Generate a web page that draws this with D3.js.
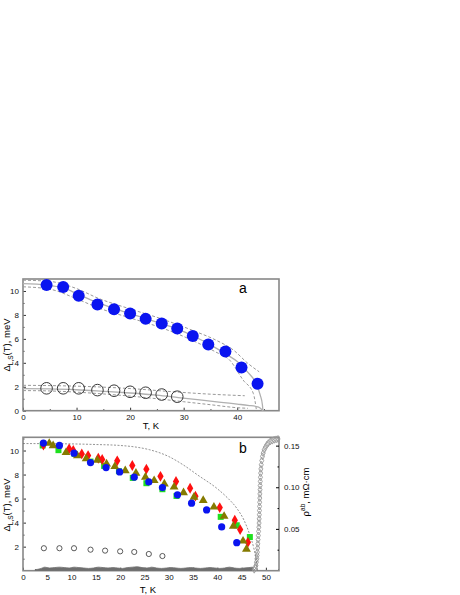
<!DOCTYPE html>
<html><head><meta charset="utf-8">
<script src="https://cdn.jsdelivr.net/npm/d3@7"></script>
<style>body{margin:0;background:#fff}svg{display:block}text{font-family:"Liberation Sans",Arial,sans-serif}</style>
</head><body>
<script>
// ---- Panel a data ----
const aT = [4.4,7.5,10.4,13.9,17,20,22.9,25.9,28.8,31.7,34.6,37.8,40.8,43.8];
const aLarge = [10.5,10.33,9.6,8.87,8.47,8.12,7.67,7.28,6.87,6.23,5.53,4.95,3.6,2.25];
const aSmallT = [4.4,7.5,10.4,13.9,17,20,22.9,25.9,28.8];
const aSmall = [1.87,1.87,1.87,1.72,1.67,1.58,1.5,1.35,1.17];
const aFitT = [0,4.4,7.5,10.4,14,17,20,23,26,29,32,35,38,40,42,43.5,44.3,44.7,44.8];
const aFit = [10.62,10.5,10.25,9.7,9.0,8.55,8.1,7.7,7.25,6.8,6.2,5.5,4.7,4.1,3.2,2.3,1.3,0.5,0];
const aUpT = [0,5,10,14,20,26,32,36,39.3,42,44.1];
const aUp = [10.9,10.8,10.2,9.4,8.5,7.65,6.65,5.9,5.06,3.95,3.25];
const aLoT = [0,5,10,14,20,26,32,36,38.6,41.1,43,43.6];
const aLo = [10.35,10.15,9.35,8.6,7.75,6.9,5.8,4.9,4.22,2.56,1.45,0];
const aSFitT = [0,5,10,15,20,25,29,33,37,40,42,44,44.8];
const aSFit = [1.85,1.83,1.75,1.62,1.48,1.3,1.1,0.9,0.7,0.55,0.45,0.3,0];
const aSUpT = [0,10,20,29,35,41.4];
const aSUp = [2.12,2.05,1.85,1.55,1.38,1.25];
const aSLoT = [0,5,10,15,20,25,30,35,40,42];
const aSLo = [1.68,1.65,1.55,1.4,1.22,1.0,0.75,0.5,0.25,0.2];

// ---- Panel b data ----
const bBlueT = [4.2,7.5,10.5,13.9,17.1,19.9,22.9,25.9,28.7,31.8,34.7,37.8,40.9,44.0];
const bBlue = [10.62,10.42,9.78,9.0,8.58,8.22,7.78,7.39,6.92,6.31,5.62,5.06,3.64,2.33];
const bRedT = [4.2,9.5,10.35,12.1,13.4,15.5,16.3,19.4,22.5,25.4,28.3,31.5,34.4,35.5,40.5,43.6,44.7,46.3];
const bRed = [10.45,10.14,10.0,9.72,9.58,9.36,9.25,9.14,8.75,8.45,7.85,7.42,6.86,6.2,5.25,4.2,3.42,2.36];
const bGreenT = [4.05,7.3,10.6,13.9,16.7,19.75,22.6,25.4,28.7,31.6,40.7,44.0,46.7];
const bGreen = [10.42,10.03,9.72,9.08,8.72,8.28,7.72,7.28,6.78,6.22,4.48,3.78,2.8];
const bTriT = [5.4,6.2,8.85,11.2,13.0,15.3,17.2,18.9,21.05,23.25,25.2,27.0,29.1,31.1,33.05,35.2,37.1,39.3,41.4,43.3,45.3,46.0];
const bTri = [10.6,10.4,9.83,9.56,9.33,9.2,8.89,8.67,8.33,8.11,7.78,7.5,7.22,6.96,6.5,6.12,5.85,5.3,4.53,3.7,2.47,1.8];
const bSmallT = [4.3,7.5,10.5,13.9,16.9,20,22.9,25.9,28.7];
const bSmall = [1.87,1.87,1.87,1.75,1.67,1.61,1.56,1.39,1.22];
const bDashT = [0,5,10,15,20,23,26,30,33,36,40,42,44,45.5,46.7,47.5,48,48.3];
const bDash = [10.58,10.57,10.55,10.5,10.42,10.3,10.07,9.5,8.8,7.95,6.82,6.1,5.2,4.2,2.97,1.9,0.9,0];
// resistivity (mOhm cm)
const rhoLowT = [2.5,3.5,4.5,5.5,6.5,7.5,8.5,9.5,10.5,11.5,12.5,13.5,14.5,15.5,16.5,17.5,18.5,19.5,20.5,21.5,22.5,23.5,24.5,25.5,26.5,27.5,28.5,29.5,30.5,31.5,32.5,33.5,34.5,35.5,36.5,37.5,38.5,39.5,40.5,41.5,42.5,43.5,44.5,45.5,46.5,47.3];
const rhoLow = [0.001,0.002,0.004,0.003,0.0035,0.004,0.0035,0.003,0.004,0.0035,0.003,0.0025,0.003,0.004,0.0035,0.003,0.0035,0.003,0.0025,0.0035,0.004,0.0045,0.0035,0.003,0.004,0.003,0.0025,0.003,0.0035,0.003,0.0025,0.003,0.0035,0.003,0.0025,0.003,0.0035,0.003,0.0025,0.003,0.004,0.003,0.0025,0.003,0.0035,0.004];
const rhoTrT = [47.6,47.8,47.95,48.05,48.15,48.2,48.25,48.3,48.35,48.4,48.45,48.5,48.55,48.6,48.62,48.65,48.68,48.7,48.72,48.75,48.77,48.8,48.82,48.85,48.88,48.92,48.97,49.05,49.15,49.3,49.45,49.65,49.9,50.2,50.5,50.9,51.3,51.7,52.1,52.5];
const rhoTr = [0.001,0.003,0.006,0.01,0.014,0.018,0.022,0.027,0.032,0.037,0.042,0.047,0.052,0.057,0.062,0.067,0.072,0.077,0.082,0.087,0.092,0.097,0.102,0.107,0.112,0.117,0.122,0.127,0.132,0.137,0.141,0.145,0.148,0.151,0.153,0.155,0.156,0.157,0.1575,0.158];

const xTicksA = [0,10,20,30,40];
const yTicksA = [0,2,4,6,8,10];
const xTicksB = [0,5,10,15,20,25,30,35,40,45,50];
const yTicksB = [2,4,6,8,10];
const rTicksB = [0.05,0.10,0.15];

const svg = d3.select("body").append("svg").attr("width",460).attr("height",595);
svg.append("rect").attr("width",460).attr("height",595).attr("fill","#fff");

const L=23,R=279;
const xA = d3.scaleLinear().domain([0,47.8]).range([L,R]);
const yA = d3.scaleLinear().domain([0,11]).range([410.7,279]);
const xB = d3.scaleLinear().domain([0,52.7]).range([L,R]);
const yB = d3.scaleLinear().domain([0,11.1]).range([570.7,437.3]);
const yR = d3.scaleLinear().domain([0,0.16]).range([570.5,437.3]);

const zip=(a,b)=>a.map((v,i)=>[v,b[i]]);
function line(g,x,y,T,V,stroke,w,dash){
  g.append("path").datum(zip(T,V)).attr("fill","none").attr("stroke",stroke).attr("stroke-width",w)
   .attr("stroke-dasharray",dash||null)
   .attr("d",d3.line().x(d=>x(d[0])).y(d=>y(d[1])).curve(d3.curveMonotoneX));
}
function axes(g,x,y,xt,xmin,yt,ymin,top,bottom){
  const ax=d3.axisBottom(x).tickValues(xt).tickSize(-3).tickPadding(4).tickFormat(d3.format("d"));
  g.append("g").attr("transform",`translate(0,${bottom})`).call(ax);
  g.append("g").attr("transform",`translate(0,${bottom})`).call(d3.axisBottom(x).tickValues(xmin).tickSize(-1.5).tickFormat(""));
  const ay=d3.axisLeft(y).tickValues(yt).tickSize(-3).tickPadding(4).tickFormat(d3.format("d"));
  g.append("g").attr("transform",`translate(${L},0)`).call(ay);
  g.append("g").attr("transform",`translate(${L},0)`).call(d3.axisLeft(y).tickValues(ymin).tickSize(-1.5).tickFormat(""));
  g.selectAll(".domain").remove();
  g.selectAll(".tick line").attr("stroke","#333");
  g.selectAll(".tick text").attr("font-size",8).attr("fill","#111").attr("font-family","Liberation Sans, Arial");
  g.append("rect").attr("x",L).attr("y",top).attr("width",R-L).attr("height",bottom-top)
   .attr("fill","none").attr("stroke","#888").attr("stroke-width",1.6);
}

// ---------- Panel a ----------
const ga = svg.append("g");
axes(ga,xA,yA,xTicksA,[5,15,25,35,45],yTicksA,[1,3,5,7,9],279,410.7);
line(ga,xA,yA,aUpT,aUp,"#999",1,"3,2");
line(ga,xA,yA,aLoT,aLo,"#999",1,"3,2");
line(ga,xA,yA,aFitT,aFit,"#b0b0b0",1.3);
line(ga,xA,yA,aSUpT,aSUp,"#999",1,"3,2");
line(ga,xA,yA,aSLoT,aSLo,"#999",1,"3,2");
line(ga,xA,yA,aSFitT,aSFit,"#b0b0b0",1.3);
ga.selectAll(".big").data(zip(aT,aLarge)).join("circle").attr("cx",d=>xA(d[0])).attr("cy",d=>yA(d[1])).attr("r",6).attr("fill","#0a14f0");
ga.selectAll(".sm").data(zip(aSmallT,aSmall)).join("circle").attr("cx",d=>xA(d[0])).attr("cy",d=>yA(d[1])).attr("r",5.8).attr("fill","none").attr("stroke","#222").attr("stroke-width",0.9);
ga.append("text").attr("x",243).attr("y",293).attr("text-anchor","middle").attr("font-size",14).text("a");
ga.append("text").attr("x",151).attr("y",429).attr("text-anchor","middle").attr("font-size",9.5).text("T, K");
const la=ga.append("text").attr("transform","translate(10,345) rotate(-90)").attr("text-anchor","middle").attr("font-size",9.5);
la.append("tspan").text("Δ");la.append("tspan").attr("font-size",6.5).attr("dy",2.5).text("L,S");la.append("tspan").attr("dy",-2.5).text("(T), meV");

// ---------- Panel b ----------
const gb = svg.append("g");
axes(gb,xB,yB,xTicksB,[2.5,7.5,12.5,17.5,22.5,27.5,32.5,37.5,42.5,47.5,52.5],yTicksB,[1,3,5,7,9,11],437.3,570.7);
// right axis
const ar=d3.axisRight(yR).tickValues(rTicksB).tickSize(-3).tickPadding(5).tickFormat(d3.format(".2f"));
const gr=gb.append("g").attr("transform",`translate(${R},0)`).call(ar);
gb.append("g").attr("transform",`translate(${R},0)`).call(d3.axisRight(yR).tickValues([0.025,0.075,0.125]).tickSize(-1.5).tickFormat(""));
gb.selectAll(".domain").remove();
gr.selectAll("text").attr("font-size",8).attr("fill","#111").attr("font-family","Liberation Sans, Arial");
// resistivity: low band
gb.append("path").datum(zip(rhoLowT,rhoLow)).attr("fill","#6e6e6e").attr("stroke","#6e6e6e").attr("stroke-width",0.8)
  .attr("d",d3.area().x(d=>xB(d[0])).y0(yR(0)).y1(d=>yR(d[1])).curve(d3.curveMonotoneX));
const dia=d3.symbol().type(d3.symbolDiamond).size(14);
gb.selectAll(".rt").data(zip(rhoTrT,rhoTr)).join("path").attr("d",dia)
  .attr("transform",d=>`translate(${xB(d[0])},${yR(d[1])})`).attr("fill","none").attr("stroke","#9a9a9a").attr("stroke-width",0.9);
line(gb,xB,yB,bDashT,bDash,"#666",0.7,"2,1.5");
gb.selectAll(".sc").data(zip(bSmallT,bSmall)).join("circle").attr("cx",d=>xB(d[0])).attr("cy",d=>yB(d[1])).attr("r",2.6).attr("fill","none").attr("stroke","#333").attr("stroke-width",0.8);
gb.selectAll(".gs").data(zip(bGreenT,bGreen)).join("rect").attr("x",d=>xB(d[0])-3).attr("y",d=>yB(d[1])-3).attr("width",6).attr("height",6).attr("fill","#1ee01e");
gb.selectAll(".rd").data(zip(bRedT,bRed)).join("path").attr("d",d3.symbol().type(d3.symbolDiamond).size(34))
  .attr("transform",d=>`translate(${xB(d[0])},${yB(d[1])})`).attr("fill","#ff1010");
gb.selectAll(".tr").data(zip(bTriT,bTri)).join("path").attr("d",d3.symbol().type(d3.symbolTriangle).size(34))
  .attr("transform",d=>`translate(${xB(d[0])},${yB(d[1])})`).attr("fill","#857a00");
gb.selectAll(".bc").data(zip(bBlueT,bBlue)).join("circle").attr("cx",d=>xB(d[0])).attr("cy",d=>yB(d[1])).attr("r",3.6).attr("fill","#0a14f0");
gb.append("text").attr("x",243).attr("y",453).attr("text-anchor","middle").attr("font-size",14).text("b");
gb.append("text").attr("x",148).attr("y",593).attr("text-anchor","middle").attr("font-size",9.5).text("T, K");
const lb=gb.append("text").attr("transform","translate(10,505) rotate(-90)").attr("text-anchor","middle").attr("font-size",9.5);
lb.append("tspan").text("Δ");lb.append("tspan").attr("font-size",6.5).attr("dy",2.5).text("L,S");lb.append("tspan").attr("dy",-2.5).text("(T), meV");
const lr=gb.append("text").attr("transform","translate(309,492) rotate(-90)").attr("text-anchor","middle").attr("font-size",9.5);
lr.append("tspan").text("ρ");lr.append("tspan").attr("font-size",6.5).attr("dy",-4).text("ab");lr.append("tspan").attr("dy",4).text(", mΩ·cm");
</script>
</body></html>
